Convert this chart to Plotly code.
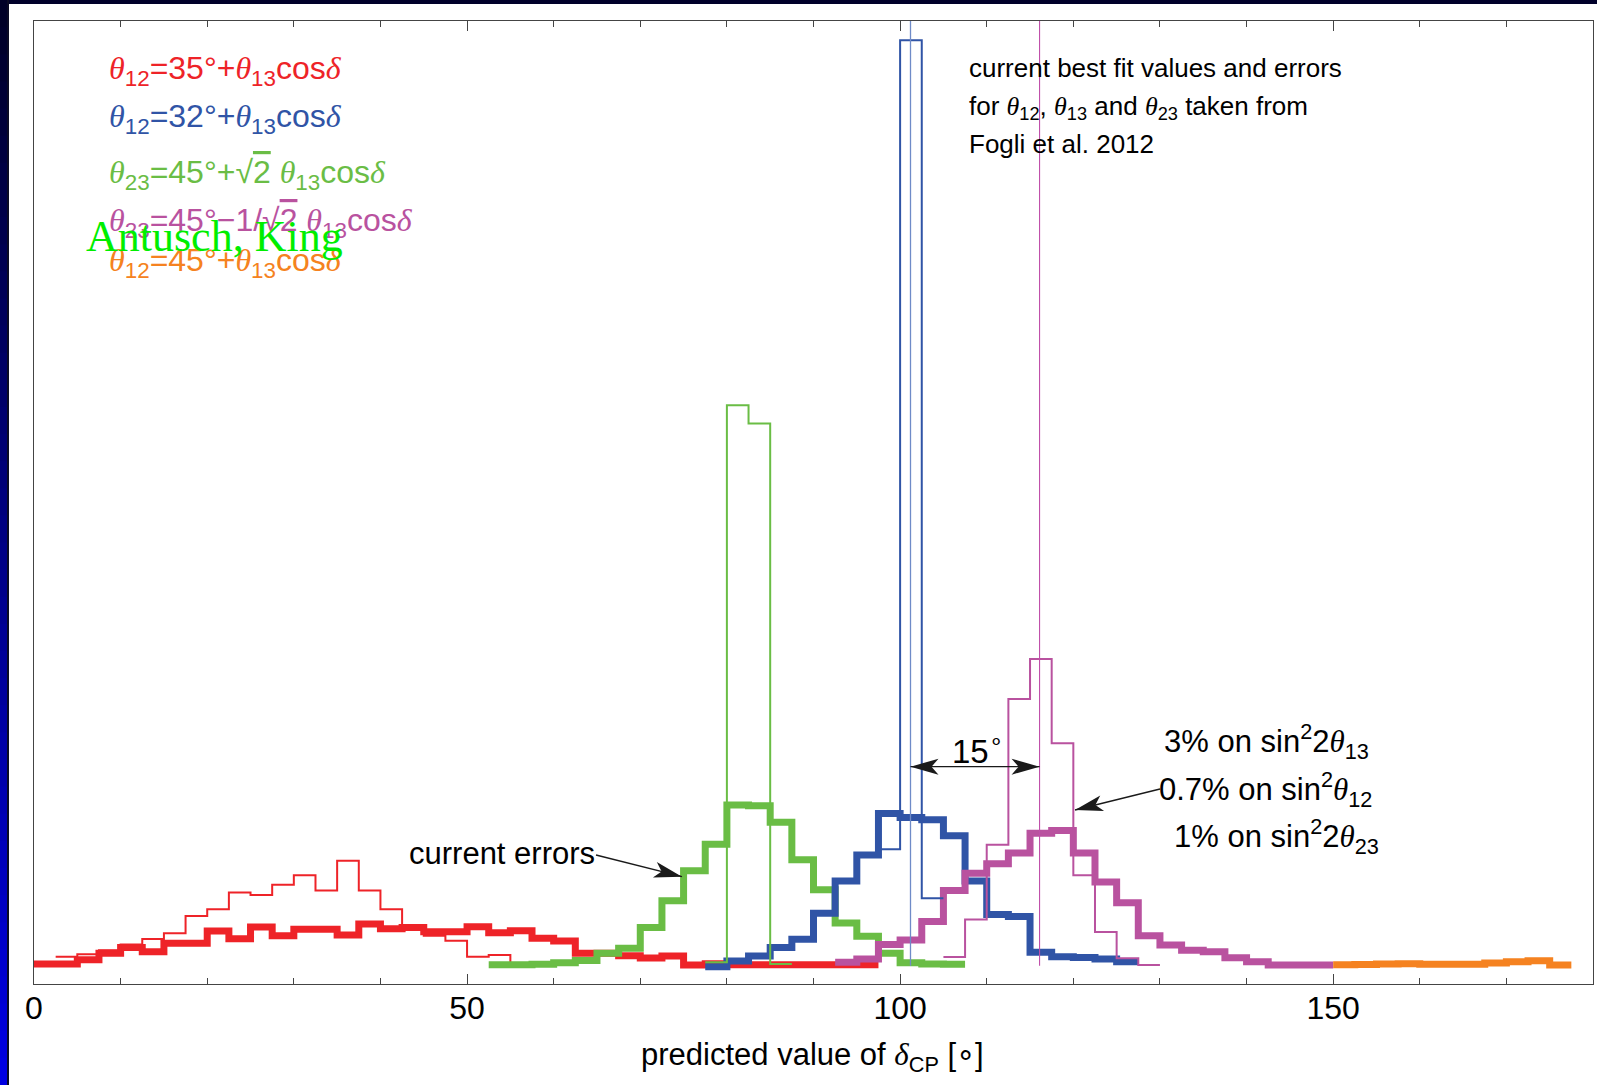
import math
import plotly.graph_objects as go

# ---------------- data ----------------
BIN = 2.5  # histogram bin width in degrees

x_ticks = [0, 50, 100, 150]
x_tick_labels = ["0", "50", "100", "150"]

# theta12 = 35 + theta13 cos(delta)
red_thin_start = 2.5
red_thin = [2.84, 3.1, 3.5, 4.1, 4.67, 5.26, 7.06, 7.75, 9.5, 9.24, 10.3, 11.3,
            9.7, 12.8, 9.7, 7.75, 5.9, 5.0, 4.5, 2.84, 3.0, 1.97]
red_thick_start = 0.0
red_thick = [2.08, 2.08, 2.53, 3.19, 3.8, 3.36, 4.22, 4.22, 5.5, 4.7, 5.92, 5.0,
             5.68, 5.68, 5.09, 6.23, 5.75, 5.88, 5.43, 5.43, 5.95, 5.33, 5.54, 4.74,
             4.46, 3.2, 3.2, 2.94, 2.7, 2.9, 1.97, 2.1, 2.0, 2.0, 2.0, 2.0, 2.0, 2.0, 2.0]

# theta23 = 45 + sqrt2 theta13 cos(delta)
green_thin_start = 77.5
green_thin = [2.25, 60.1, 58.2, 2.08]
green_thick_start = 52.5
green_thick = [2.0, 2.0, 2.05, 2.2, 2.45, 3.2, 3.7, 5.88, 8.65, 11.77, 14.5, 18.6,
               18.5, 16.8, 12.9, 9.8, 6.33, 4.95, 3.2, 2.2, 2.08, 2.05]

# theta12 = 32 + theta13 cos(delta)
blue_thin_start = 97.5
blue_thin = [14.0, 98.0, 8.9]
blue_thick_start = 77.5
blue_thick = [1.8, 2.4, 2.9, 3.8, 4.65, 7.35, 10.7, 13.4, 17.7, 17.3, 17.06, 15.4,
              10.7, 7.23, 7.0, 3.3, 2.84, 2.75, 2.6, 2.3]

# theta23 = 45 - 1/sqrt2 theta13 cos(delta)
magenta_thin_start = 105.0
magenta_thin = [2.8, 6.7, 14.45, 29.6, 33.75, 25.0, 11.3, 5.4, 2.67, 1.97]
magenta_thick_start = 92.5
magenta_thick = [2.25, 2.6, 4.1, 4.57, 6.5, 9.7, 11.5, 12.5, 13.6, 15.65, 15.95, 13.6,
                 10.6, 8.43, 5.0, 4.05, 3.5, 3.36, 2.73, 2.32, 1.97, 1.97, 1.97]

# theta12 = 45 + theta13 cos(delta)
orange_thick_start = 150.0
orange_thick = [2.0, 2.03, 2.08, 2.1, 2.04, 2.04, 2.04, 2.18, 2.32, 2.42, 1.97]

# best-fit reference lines
blue_best_fit = 101.2
magenta_best_fit = 116.1
ref_line_y = [1.9, 100.0]

# ---------------- styles ----------------
RED = "#ee2328"
GREEN = "#6abd45"
BLUE = "#3054a6"
MAGENTA = "#b9529f"
ORANGE = "#f58220"
THICK = 7
THIN = 2

X_RANGE = [0, 180]
Y_RANGE = [0, 100]

# plot-area pixel geometry (used only to place text and arrows)
W, H = 1597, 1085
ML, MR, MT, MB = 34, 4, 21, 101
PW = W - ML - MR
PH = H - MT - MB


def X(px):
    return X_RANGE[0] + (px - ML) / PW * (X_RANGE[1] - X_RANGE[0])


def Y(py):
    return Y_RANGE[0] + (H - MB - py) / PH * (Y_RANGE[1] - Y_RANGE[0])


def PXp(px):
    return (px - ML) / PW


def PYp(py):
    return (H - MB - py) / PH


def step_trace(start, values, color, width):
    xs = [start + BIN * i for i in range(len(values) + 1)]
    ys = list(values) + [values[-1]]
    return go.Scatter(x=xs, y=ys, mode="lines", line=dict(color=color, width=width, shape="hv"),
                      hoverinfo="skip", showlegend=False)


fig = go.Figure()
fig.add_trace(step_trace(red_thick_start, red_thick, RED, THICK))
fig.add_trace(step_trace(red_thin_start, red_thin, RED, THIN))
fig.add_trace(step_trace(green_thick_start, green_thick, GREEN, THICK))
fig.add_trace(step_trace(blue_thick_start, blue_thick, BLUE, THICK))
fig.add_trace(step_trace(magenta_thick_start, magenta_thick, MAGENTA, THICK))
fig.add_trace(step_trace(orange_thick_start, orange_thick, ORANGE, THICK))
fig.add_trace(step_trace(green_thin_start, green_thin, GREEN, THIN))
fig.add_trace(step_trace(blue_thin_start, blue_thin, BLUE, THIN))
fig.add_trace(step_trace(magenta_thin_start, magenta_thin, MAGENTA, THIN))

fig.add_trace(go.Scatter(x=[blue_best_fit, blue_best_fit], y=ref_line_y, mode="lines",
                         line=dict(color="#6f8bc8", width=1.3), hoverinfo="skip", showlegend=False))
fig.add_trace(go.Scatter(x=[magenta_best_fit, magenta_best_fit], y=ref_line_y, mode="lines",
                         line=dict(color="#c04faa", width=1.1), hoverinfo="skip", showlegend=False))

SANS = "Liberation Sans"
SERIF = "Liberation Serif"
TH = f"<span style='font-family:{SERIF}'><i>θ</i></span>"
DL = f"<span style='font-family:{SERIF}'><i>δ</i></span>"
SQ2 = "√<span style='text-decoration:overline'>2</span>"

annotations = []
shapes = []


def txt(x, y, text, size, color="black", xanchor="left", family=SANS, xref="x", yref="y"):
    annotations.append(dict(x=x, y=y, xref=xref, yref=yref, text=text, showarrow=False,
                            xanchor=xanchor, yanchor="middle",
                            font=dict(size=size, color=color, family=family)))


legend_lines = [
    (f"{TH}<sub>12</sub>=35°+{TH}<sub>13</sub>cos{DL}", RED, 70),
    (f"{TH}<sub>12</sub>=32°+{TH}<sub>13</sub>cos{DL}", BLUE, 118),
    (f"{TH}<sub>23</sub>=45°+{SQ2} {TH}<sub>13</sub>cos{DL}", GREEN, 174),
    (f"{TH}<sub>23</sub>=45°−1/{SQ2} {TH}<sub>13</sub>cos{DL}", MAGENTA, 222),
    (f"{TH}<sub>12</sub>=45°+{TH}<sub>13</sub>cos{DL}", ORANGE, 262),
]
for t, c, py in legend_lines:
    txt(X(107), Y(py), t, 32, c)

txt(X(84), Y(236), "Antusch, King", 44, "#00ee00", family=SERIF)

txt(X(967), Y(68), "current best fit values and errors", 26)
txt(X(967), Y(107), f"for {TH}<sub>12</sub>, {TH}<sub>13</sub> and {TH}<sub>23</sub> taken from", 26)
txt(X(967), Y(144), "Fogli et al. 2012", 26)

txt(X(597), Y(853), "current errors", 31, xanchor="right")
txt(X(977), Y(749), "15<sup>∘</sup>", 33, xanchor="center")

txt(X(1162), Y(741), f"3% on sin<sup>2</sup>2{TH}<sub>13</sub>", 31)
txt(X(1157), Y(789), f"0.7% on sin<sup>2</sup>{TH}<sub>12</sub>", 31)
txt(X(1172), Y(836), f"1% on sin<sup>2</sup>2{TH}<sub>23</sub>", 31)

# axis title
txt(PXp(812), PYp(1057), f"predicted value of {DL}<sub>CP</sub> [∘]", 31, xanchor="center",
    xref="paper", yref="paper")

# ---------------- arrows (line + concave triangular head, sized in pixels) ----------------
HEAD_LEN, HEAD_HALF, HEAD_NOTCH = 28, 8, 7
ARROW_COLOR = "#1a1a1a"


def arrow_head(tip_px, tail_px):
    ux = tip_px[0] - tail_px[0]
    uy = -(tip_px[1] - tail_px[1])  # y up
    n = math.hypot(ux, uy)
    ux, uy = ux / n, uy / n
    nx, ny = -uy, ux
    p1 = (-HEAD_LEN * ux + HEAD_HALF * nx, -HEAD_LEN * uy + HEAD_HALF * ny)
    p2 = (-(HEAD_LEN - HEAD_NOTCH) * ux, -(HEAD_LEN - HEAD_NOTCH) * uy)
    p3 = (-HEAD_LEN * ux - HEAD_HALF * nx, -HEAD_LEN * uy - HEAD_HALF * ny)
    path = "M0,0 L{:.2f},{:.2f} L{:.2f},{:.2f} L{:.2f},{:.2f} Z".format(*p1, *p2, *p3)
    shapes.append(dict(type="path", xref="x", yref="y", xsizemode="pixel", ysizemode="pixel",
                       xanchor=X(tip_px[0]), yanchor=Y(tip_px[1]), path=path,
                       fillcolor=ARROW_COLOR, line=dict(width=0), layer="above"))


def arrow(tail_px, tip_px, both=False):
    shapes.append(dict(type="line", xref="x", yref="y", x0=X(tail_px[0]), y0=Y(tail_px[1]),
                       x1=X(tip_px[0]), y1=Y(tip_px[1]), line=dict(color=ARROW_COLOR, width=1.3),
                       layer="above"))
    arrow_head(tip_px, tail_px)
    if both:
        arrow_head(tail_px, tip_px)


arrow((596, 855), (682, 876.7))
arrow((1160, 789), (1075, 810))
bx = ML + (blue_best_fit - X_RANGE[0]) / (X_RANGE[1] - X_RANGE[0]) * PW
mx = ML + (magenta_best_fit - X_RANGE[0]) / (X_RANGE[1] - X_RANGE[0]) * PW
arrow((bx, 766.7), (mx, 766.7), both=True)

# ---------------- decorative border (navy band on top, gradient band on the left) ----------------
shapes.append(dict(type="rect", xref="paper", yref="paper", x0=PXp(0), x1=PXp(W), y0=PYp(0), y1=PYp(4),
                   fillcolor="#00002a", line=dict(width=0), layer="above"))
N = 40
for i in range(N):
    t = i / (N - 1)
    col = f"rgb(0,0,{int(40 + t * 185)})"
    y0 = i * H / N
    y1 = (i + 1) * H / N + 1
    shapes.append(dict(type="rect", xref="paper", yref="paper", x0=PXp(0), x1=PXp(7), y0=PYp(y0), y1=PYp(y1),
                       fillcolor=col, line=dict(width=0), layer="above"))
shapes.append(dict(type="rect", xref="paper", yref="paper", x0=PXp(7), x1=PXp(9), y0=PYp(0), y1=PYp(H),
                   fillcolor="#0a0a25", line=dict(width=0), layer="above"))

fig.update_layout(
    width=W, height=H,
    margin=dict(l=ML, r=MR, t=MT, b=MB, pad=0),
    paper_bgcolor="white", plot_bgcolor="white",
    showlegend=False,
    annotations=annotations,
    shapes=shapes,
    xaxis=dict(range=X_RANGE, tickvals=x_ticks, ticktext=x_tick_labels, ticks="inside", ticklen=10,
               tickcolor="#444", tickwidth=1.2, showline=True, linecolor="#444", linewidth=1.3,
               mirror="ticks", showgrid=False, zeroline=False, ticklabelstandoff=-5,
               tickfont=dict(family=SANS, size=32, color="black"),
               minor=dict(dtick=10, ticks="inside", ticklen=6, tickcolor="#444", tickwidth=1.1,
                          showgrid=False)),
    yaxis=dict(range=Y_RANGE, showticklabels=False, ticks="", showline=True, linecolor="#444",
               linewidth=1.3, mirror=True, showgrid=False, zeroline=False),
)

fig.write_html("out.html", config={"displayModeBar": False},
               post_script="document.body.style.margin='0px';")
